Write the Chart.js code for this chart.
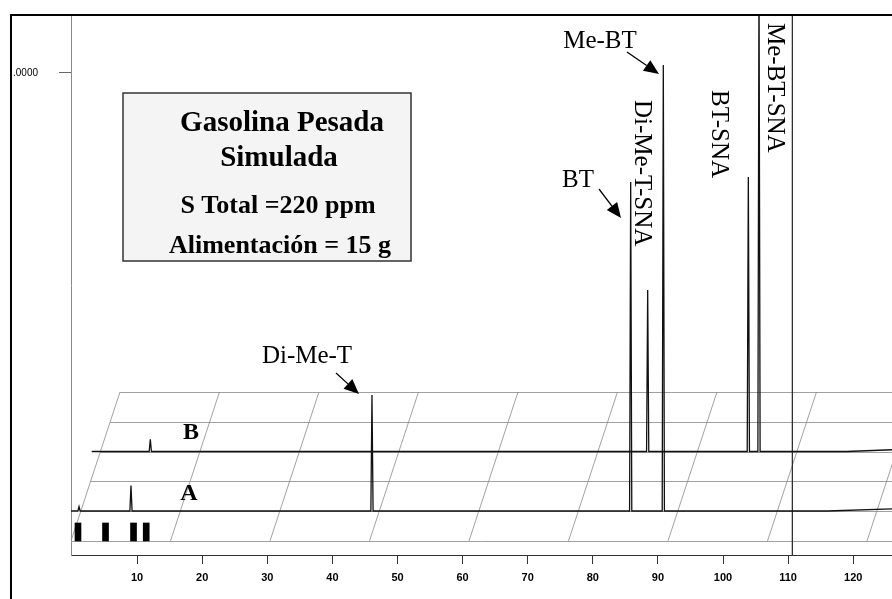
<!DOCTYPE html>
<html><head><meta charset="utf-8">
<script src="https://cdn.jsdelivr.net/npm/chart.js@4.4.1/dist/chart.umd.min.js"></script>
<style>html,body{margin:0;padding:0;background:#fff;}canvas{display:block;}</style>
</head><body>
<canvas id="c" width="892" height="599"></canvas>
<script>
// ---- data (retention time in axis units, signal relative to the 1.0000 tick) ----
const xTicks = [10, 20, 30, 40, 50, 60, 70, 80, 90, 100, 110, 120];
const yTicks = [1.0];
const yTickLabels = ['.0000'];

const peakNamesA = ['', '', 'Di-Me-T', 'BT', 'Me-BT'];
const peakTimesA = [1.08, 9.06, 46.08, 85.82, 90.83];
const peakHeightsA = [0.010, 0.058, 0.265, 0.751, 1.018];

const peakNamesB = ['', 'Di-Me-T-SNA', 'BT-SNA', 'Me-BT-SNA'];
const peakTimesB = [12.03, 88.43, 103.89, 105.53];
const peakHeightsB = [0.028, 0.369, 0.627, 1.10];

const driftTimesA = [116, 126];
const driftA = [0, 0.005];
const driftTimesB = [119, 126];
const driftB = [0, 0.004];

const markerTimes = [0.92, 5.15, 9.45, 11.4];
const markerStart = [-0.0685, -0.0685, -0.0685, -0.0685];
const markerEnd = [-0.0274, -0.0274, -0.0274, -0.0274];

const traceCTimes = [110.65];

const baseA = 0, baseB = 0.1358;
const startA = -0.15, startB = 3.03, endT = 125.96;
const Y_MIN = -0.1005, Y_MAX = 1.1324;

function buildTrace(start, base, times, heights, dTimes, dVals) {
  const pts = [{x: start, y: base}];
  const hw = 0.17;
  times.forEach((t, i) => {
    pts.push({x: t - hw, y: base});
    pts.push({x: t, y: base + heights[i]});
    pts.push({x: t + hw, y: base});
  });
  dTimes.forEach((t, i) => pts.push({x: t, y: base + dVals[i]}));
  pts.sort((a, b) => a.x - b.x);
  return pts;
}

const traceA = buildTrace(startA, baseA, peakTimesA, peakHeightsA, driftTimesA, driftA);
const traceB = buildTrace(startB, baseB, peakTimesB, peakHeightsB, driftTimesB, driftB);
const traceC = [];
traceCTimes.forEach(t => { traceC.push({x: t, y: Y_MIN}); traceC.push({x: t, y: Y_MAX}); });

// ---- perspective grid (decoration) ----
const gridLevels = [-0.0685, 0, 0.0679, 0.1358, 0.2037, 0.2717];
const slantTop0 = 7.373, slantStep = 15.284, slantShift = -7.527;

const gridPlugin = {
  id: 'grid3d',
  beforeDatasetsDraw(chart) {
    const {ctx, scales: {x, y}, chartArea} = chart;
    const lo = gridLevels[0], hi = gridLevels[gridLevels.length - 1];
    ctx.save();
    ctx.beginPath();
    ctx.rect(chartArea.left, chartArea.top, chartArea.right - chartArea.left, chartArea.bottom - chartArea.top);
    ctx.clip();
    ctx.strokeStyle = '#a0a0a0';
    ctx.lineWidth = 1;
    gridLevels.forEach(L => {
      const f = (L - lo) / (hi - lo);
      const tl = slantTop0 + slantShift + f * (-slantShift);
      ctx.beginPath();
      ctx.moveTo(x.getPixelForValue(tl), Math.round(y.getPixelForValue(L)) + 0.5);
      ctx.lineTo(chartArea.right, Math.round(y.getPixelForValue(L)) + 0.5);
      ctx.stroke();
    });
    ctx.strokeStyle = '#8a8a8a';
    ctx.lineWidth = 0.8;
    for (let k = 0; k < 10; k++) {
      const tTop = slantTop0 + k * slantStep;
      const tBot = tTop + slantShift;
      ctx.beginPath();
      ctx.moveTo(x.getPixelForValue(tBot), y.getPixelForValue(lo));
      ctx.lineTo(x.getPixelForValue(tTop), y.getPixelForValue(hi));
      ctx.stroke();
    }
    ctx.restore();
  }
};

function arrow(ctx, x1, y1, x2, y2) {
  const a = Math.atan2(y2 - y1, x2 - x1);
  const len = 15, wid = 6.5;
  const bx = x2 - len * Math.cos(a), by = y2 - len * Math.sin(a);
  ctx.beginPath();
  ctx.moveTo(x1, y1);
  ctx.lineTo(bx, by);
  ctx.lineWidth = 1.3;
  ctx.stroke();
  ctx.beginPath();
  ctx.moveTo(x2, y2);
  ctx.lineTo(bx + wid * Math.sin(a), by - wid * Math.cos(a));
  ctx.lineTo(bx - wid * Math.sin(a), by + wid * Math.cos(a));
  ctx.closePath();
  ctx.fill();
}

const annotPlugin = {
  id: 'annot',
  afterDatasetsDraw(chart) {
    const ctx = chart.ctx;
    ctx.save();
    ctx.fillStyle = '#f4f4f4';
    ctx.fillRect(123, 93, 288, 168);
    ctx.strokeStyle = '#333';
    ctx.lineWidth = 1.5;
    ctx.strokeRect(123, 93, 288, 168);
    ctx.fillStyle = '#000';
    ctx.textAlign = 'center';
    ctx.textBaseline = 'alphabetic';
    ctx.font = 'bold 29px "Liberation Serif"';
    ctx.fillText('Gasolina Pesada', 282, 131);
    ctx.fillText('Simulada', 279, 166);
    ctx.font = 'bold 26px "Liberation Serif"';
    ctx.fillText('S Total =220 ppm', 278, 213);
    ctx.fillText('Alimentación = 15 g', 280, 253);

    ctx.font = 'bold 24px "Liberation Serif"';
    ctx.fillText('B', 191, 439);
    ctx.fillText('A', 189, 500);

    ctx.font = '25px "Liberation Serif"';
    ctx.fillText(peakNamesA[2], 307, 363);
    ctx.fillText(peakNamesA[4], 600, 48);
    ctx.fillText(peakNamesA[3], 578, 187);
    ctx.strokeStyle = '#000';
    arrow(ctx, 336, 373, 359, 394);
    arrow(ctx, 627, 52, 659, 74);
    arrow(ctx, 599, 189, 621, 218);

    const rot = [[peakNamesB[1], 635, 100], [peakNamesB[2], 712, 90], [peakNamesB[3], 768, 23]];
    ctx.textAlign = 'left';
    rot.forEach(([t, px, py]) => {
      ctx.save();
      ctx.translate(px, py);
      ctx.rotate(Math.PI / 2);
      ctx.fillText(t, 0, 0);
      ctx.restore();
    });
    ctx.restore();
  },
  afterDraw(chart) {
    const ctx = chart.ctx;
    ctx.save();
    ctx.strokeStyle = '#000';
    ctx.lineWidth = 2;
    ctx.beginPath();
    ctx.moveTo(11, 605);
    ctx.lineTo(11, 15);
    ctx.lineTo(900, 15);
    ctx.stroke();
    ctx.restore();
  }
};

new Chart(document.getElementById('c'), {
  type: 'line',
  data: {
    datasets: [
      {label: 'A', data: traceA, borderColor: '#111', borderWidth: 1.3, pointRadius: 0, tension: 0, fill: false},
      {label: 'B', data: traceB, borderColor: '#111', borderWidth: 1.3, pointRadius: 0, tension: 0, fill: false},
      {label: 'C', data: traceC, borderColor: '#222', borderWidth: 1.2, pointRadius: 0, tension: 0, fill: false},
      {type: 'bar', label: 'marcas', data: markerTimes.map((t, i) => ({x: t, y: [markerStart[i], markerEnd[i]]})),
       backgroundColor: '#000', borderWidth: 0, barThickness: 6, grouped: false}
    ]
  },
  options: {
    responsive: false,
    devicePixelRatio: 1,
    animation: false,
    layout: {padding: {top: 15, left: 0, right: 0, bottom: 0}},
    plugins: {legend: {display: false}, tooltip: {enabled: false}},
    scales: {
      x: {
        type: 'linear', min: -0.1536, max: 125.96, offset: false,
        afterBuildTicks(s) { s.ticks = xTicks.map(v => ({value: v})); },
        afterFit(s) { s.height = 44; s.paddingLeft = 0; s.paddingRight = 0; },
        grid: {display: true, offset: false, drawOnChartArea: false, drawTicks: true, tickLength: 9, color: '#333', lineWidth: 1},
        border: {display: true, color: '#333', width: 1},
        ticks: {autoSkip: false, maxRotation: 0, padding: 7, color: '#000',
                font: {family: '"Liberation Sans", Arial', size: 11, weight: 'bold'},
                callback: v => String(v)}
      },
      y: {
        type: 'linear', min: Y_MIN, max: Y_MAX,
        afterBuildTicks(s) { s.ticks = yTicks.map(v => ({value: v})); },
        afterFit(s) { s.width = 71; s.paddingTop = 0; s.paddingBottom = 0; },
        grid: {display: true, offset: false, drawOnChartArea: false, drawTicks: true, tickLength: 12, color: '#666'},
        border: {display: true, color: '#888', width: 1},
        ticks: {padding: 21, color: '#000', font: {family: '"Liberation Sans", Arial', size: 10},
                callback: (v, i) => yTickLabels[i]}
      }
    }
  },
  plugins: [gridPlugin, annotPlugin]
});
</script>
</body></html>
